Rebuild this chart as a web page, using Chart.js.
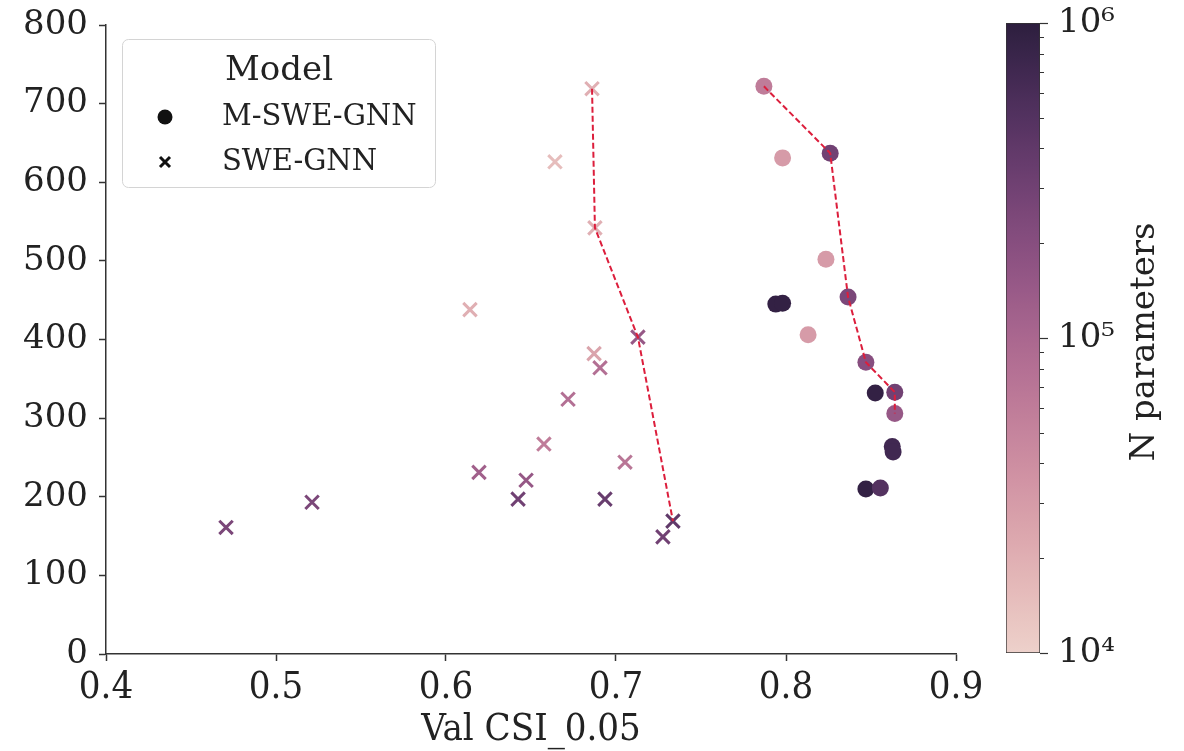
<!DOCTYPE html>
<html lang="en">
<head>
  <meta charset="UTF-8">
  <title>Val CSI_0.05 vs N parameters</title>
  <script src="https://cdn.jsdelivr.net/npm/chart.js"></script>
  <style>
    body { margin: 0; background: #fff; }
    #wrap { position: relative; width: 1184px; height: 751px; }
    #wrap canvas { position: absolute; left: 0; top: 0; }
  </style>
</head>
<body>
  <div id="wrap">
    <canvas id="scatterChart" width="1184" height="751"></canvas>
    <canvas id="colorbar" width="1184" height="751"></canvas>
  </div>

  <script>
    // M-SWE-GNN runs (circles)
    const msweX = [0.787, 0.798, 0.826, 0.8235, 0.8365, 0.794, 0.798, 0.813, 0.847, 0.8525, 0.864, 0.864, 0.8625, 0.863, 0.847, 0.8555];
    const msweY = [722, 631, 637, 502, 454, 445, 446, 406, 371, 332, 333, 306, 264, 257, 210, 211];
    const msweN = [6e4, 3e4, 3e5, 3e4, 2.5e5, 9e5, 9e5, 3e4, 2e5, 9e5, 3e5, 1.5e5, 7e5, 7e5, 9e5, 5e5];
    const mswePareto = [0, 2, 4, 8, 10, 11];

    // SWE-GNN runs (crosses)
    const sweX = [0.4706, 0.5212, 0.6141, 0.6641, 0.6859, 0.6876, 0.7129, 0.6871, 0.6906, 0.6718, 0.6576, 0.6194, 0.6471, 0.6424, 0.6935, 0.7053, 0.7335, 0.7276];
    const sweY = [161, 193, 438, 626, 719, 542, 403, 382, 364, 324, 267, 231, 221, 197, 197, 244, 169, 149];
    const sweN = [2.5e5, 2.5e5, 2e4, 1.5e4, 2e4, 2e4, 1.5e5, 2.5e4, 8e4, 8e4, 6e4, 1.2e5, 1.5e5, 3e5, 3.5e5, 7e4, 4e5, 3e5];
    const swePareto = [4, 5, 6, 16];

    const xTicks = [0.4, 0.5, 0.6, 0.7, 0.8, 0.9];
    const yTicks = [0, 100, 200, 300, 400, 500, 600, 700, 800];
    const cbRange = [1e4, 1e6];

    const serif = "'DejaVu Serif', serif";
    const serifCond = "'DejaVu Serif Condensed', 'DejaVu Serif', serif";
    const ink = '#222';
    const paretoRed = '#dc1e3c';

    // seaborn default cubehelix (start 0, rot .4, hue .8, light .85, dark .15)
    function cubehelix(x) {
      const a = 0.8 * x * (1 - x) / 2;
      const phi = 2 * Math.PI * (0.4 * x);
      const c = Math.cos(phi), s = Math.sin(phi);
      const ch = v => Math.round(255 * Math.min(1, Math.max(0, v)));
      const r = x + a * (-0.14861 * c + 1.78277 * s);
      const g = x + a * (-0.29227 * c - 0.90649 * s);
      const b = x + a * (1.97294 * c);
      return `rgb(${ch(r)},${ch(g)},${ch(b)})`;
    }
    function colorFor(n) {
      let t = (Math.log10(n) - Math.log10(cbRange[0])) / (Math.log10(cbRange[1]) - Math.log10(cbRange[0]));
      t = Math.min(1, Math.max(0, t));
      return cubehelix(0.85 - 0.7 * t);
    }

    const pts = (xs, ys) => xs.map((x, i) => ({ x, y: ys[i] }));
    const pick = (xs, ys, idx) => idx.map(i => ({ x: xs[i], y: ys[i] }));

    const legendPlugin = {
      id: 'modelLegend',
      afterDatasetsDraw(chart) {
        const ctx = chart.ctx;
        ctx.save();
        ctx.beginPath();
        ctx.roundRect(122.5, 39.5, 313, 148, 6);
        ctx.fillStyle = 'rgba(255,255,255,0.85)';
        ctx.fill();
        ctx.strokeStyle = '#d4d4d4';
        ctx.lineWidth = 1;
        ctx.stroke();

        ctx.fillStyle = ink;
        ctx.textBaseline = 'alphabetic';
        ctx.textAlign = 'center';
        ctx.font = `34px ${serif}`;
        ctx.fillText('Model', 279, 80);

        ctx.textAlign = 'left';
        ctx.font = `29px ${serif}`;
        ctx.fillText(chart.data.datasets[0].label, 222, 125);
        ctx.fillText(chart.data.datasets[1].label, 222, 170);

        ctx.fillStyle = '#111';
        ctx.beginPath();
        ctx.arc(165, 117, 7.5, 0, Math.PI * 2);
        ctx.fill();
        ctx.strokeStyle = '#111';
        ctx.lineWidth = 3;
        ctx.beginPath();
        ctx.moveTo(160, 157); ctx.lineTo(170, 167);
        ctx.moveTo(170, 157); ctx.lineTo(160, 167);
        ctx.stroke();
        ctx.restore();
      }
    };

    new Chart(document.getElementById('scatterChart'), {
      type: 'scatter',
      data: {
        datasets: [
          {
            label: 'M-SWE-GNN',
            data: pts(msweX, msweY),
            pointStyle: 'circle',
            pointRadius: 8.5,
            pointBorderWidth: 0,
            pointBackgroundColor: msweN.map(colorFor),
            order: 2
          },
          {
            label: 'SWE-GNN',
            data: pts(sweX, sweY),
            pointStyle: 'crossRot',
            pointRadius: 9.5,
            pointBorderWidth: 3,
            pointBorderColor: sweN.map(colorFor),
            order: 2
          },
          {
            type: 'line',
            label: 'M-SWE-GNN front',
            data: pick(msweX, msweY, mswePareto),
            borderColor: paretoRed,
            borderWidth: 2,
            borderDash: [6, 3],
            pointRadius: 0,
            fill: false,
            tension: 0,
            order: 1
          },
          {
            type: 'line',
            label: 'SWE-GNN front',
            data: pick(sweX, sweY, swePareto),
            borderColor: paretoRed,
            borderWidth: 2,
            borderDash: [6, 3],
            pointRadius: 0,
            fill: false,
            tension: 0,
            order: 1
          }
        ]
      },
      options: {
        responsive: false,
        animation: false,
        events: [],
        layout: { padding: { left: 0, top: 25, right: 228, bottom: 0 } },
        plugins: { legend: { display: false }, tooltip: { enabled: false } },
        scales: {
          x: {
            type: 'linear',
            min: xTicks[0],
            max: xTicks[xTicks.length - 1],
            afterFit: s => { s.height = 97; s.paddingLeft = 0; s.paddingRight = 0; },
            afterBuildTicks: s => { s.ticks = xTicks.map(v => ({ value: v })); },
            grid: { drawOnChartArea: false, tickLength: 7, tickWidth: 1.5, tickColor: '#333' },
            border: { color: '#333', width: 1.5 },
            ticks: {
              color: ink,
              padding: 4,
              maxRotation: 0,
              font: { family: serifCond, size: 38 },
              callback: v => v.toFixed(1)
            },
            title: {
              display: true,
              text: 'Val CSI_0.05',
              color: ink,
              font: { family: serifCond, size: 38, lineHeight: 1 },
              padding: { top: 0, bottom: 2 }
            }
          },
          y: {
            type: 'linear',
            min: yTicks[0],
            max: yTicks[yTicks.length - 1],
            afterFit: s => { s.width = 106; s.paddingTop = 0; s.paddingBottom = 0; },
            afterBuildTicks: s => { s.ticks = yTicks.map(v => ({ value: v })); },
            grid: { drawOnChartArea: false, tickLength: 7, tickWidth: 1.5, tickColor: '#333' },
            border: { color: '#333', width: 1.5 },
            ticks: {
              color: ink,
              padding: 11,
              font: { family: serif, size: 34 }
            }
          }
        }
      },
      plugins: [legendPlugin]
    });

    // colorbar
    const isDecade = v => {
      const m = v / Math.pow(10, Math.floor(Math.log10(v) + 1e-9));
      return Math.abs(m - 1) < 1e-6;
    };
    const isWholeStep = v => {
      const m = v / Math.pow(10, Math.floor(Math.log10(v) + 1e-9));
      return Math.abs(m - Math.round(m)) < 1e-6;
    };
    const supDigits = { '0': '⁰', '1': '¹', '2': '²', '3': '³', '4': '⁴', '5': '⁵', '6': '⁶', '7': '⁷', '8': '⁸', '9': '⁹' };

    const colorbarPlugin = {
      id: 'colorbarExtras',
      afterDraw(chart) {
        const ctx = chart.ctx;
        const sc = chart.scales.y;
        const area = chart.chartArea;
        ctx.save();
        // minor ticks, shorter than decade ticks
        ctx.strokeStyle = '#333';
        ctx.lineWidth = 1.2;
        ctx.beginPath();
        sc.ticks.forEach(t => {
          if (!isDecade(t.value) && isWholeStep(t.value)) {
            const py = Math.round(sc.getPixelForValue(t.value)) + 0.5;
            ctx.moveTo(area.right, py);
            ctx.lineTo(area.right + 4, py);
          }
        });
        ctx.stroke();
        // axis title, reading bottom to top
        ctx.translate(area.right + 105, (area.top + area.bottom) / 2 + 4);
        ctx.rotate(-Math.PI / 2);
        ctx.fillStyle = ink;
        ctx.font = `34px ${serif}`;
        ctx.textAlign = 'center';
        ctx.textBaseline = 'middle';
        ctx.fillText('N parameters', 0, 0);
        ctx.restore();
      }
    };

    new Chart(document.getElementById('colorbar'), {
      type: 'bar',
      data: {
        labels: ['N'],
        datasets: [{
          data: [cbRange],
          barPercentage: 1,
          categoryPercentage: 1,
          borderWidth: 1,
          borderColor: '#333',
          borderSkipped: false,
          backgroundColor: c => {
            const chart = c.chart;
            if (!chart.chartArea) return '#ccc';
            const sc = chart.scales.y;
            const y0 = sc.getPixelForValue(cbRange[0]);
            const y1 = sc.getPixelForValue(cbRange[1]);
            const grad = chart.ctx.createLinearGradient(0, y0, 0, y1);
            const lo = Math.log10(cbRange[0]), hi = Math.log10(cbRange[1]);
            for (let i = 0; i <= 40; i++) {
              grad.addColorStop(i / 40, colorFor(Math.pow(10, lo + (hi - lo) * i / 40)));
            }
            return grad;
          }
        }]
      },
      options: {
        responsive: false,
        animation: false,
        events: [],
        layout: { padding: { left: 1006, top: 23, right: 44, bottom: 98 } },
        plugins: { legend: { display: false }, tooltip: { enabled: false } },
        scales: {
          x: { display: false },
          y: {
            type: 'logarithmic',
            position: 'right',
            min: cbRange[0],
            max: cbRange[1],
            afterFit: s => { s.width = 100; s.paddingTop = 0; s.paddingBottom = 0; },
            grid: {
              drawOnChartArea: false,
              tickLength: 8,
              tickWidth: 1.2,
              tickColor: c => (c.tick && isDecade(c.tick.value)) ? '#333' : 'rgba(0,0,0,0)'
            },
            border: { display: false },
            ticks: {
              autoSkip: false,
              color: ink,
              padding: 10,
              font: { family: serif, size: 34 },
              callback: v => {
                if (!isDecade(v)) return '';
                const e = String(Math.round(Math.log10(v)));
                return '10' + e.split('').map(d => supDigits[d]).join('');
              }
            }
          }
        }
      },
      plugins: [colorbarPlugin]
    });
  </script>
</body>
</html>
